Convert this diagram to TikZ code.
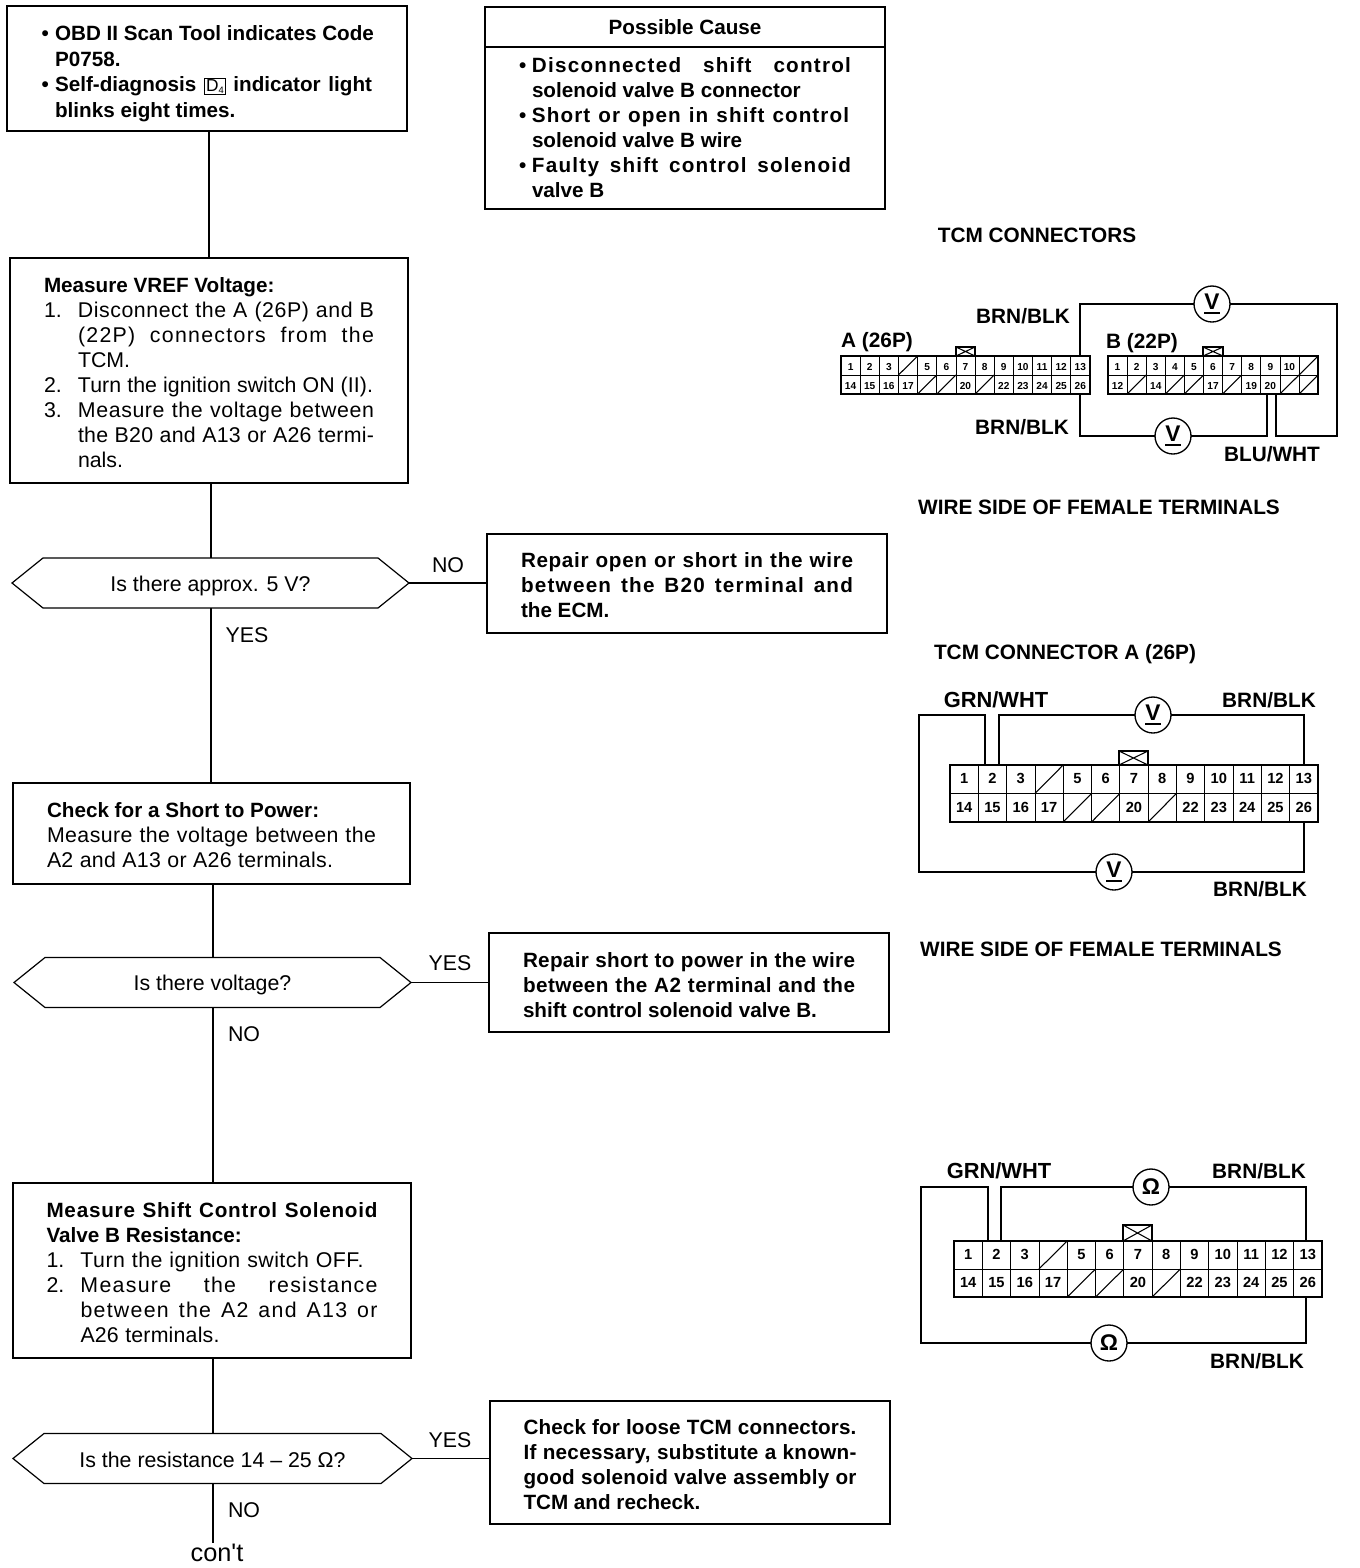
\documentclass[tikz,border=0pt]{standalone}
\usepackage{fontspec}
\setmainfont{Liberation Sans}
\usetikzlibrary{calc}
\newlength\pxu \setlength\pxu{0.75pt}
\newlength\jlw
\ExplSyntaxOn
\newcommand\lscount[1]{\str_count:n{#1}}
\ExplSyntaxOff
% justified line: letter-spaced a little, the rest goes to the word spaces
\newcommand\jl[2]{{\settowidth\jlw{#2}%
  \pgfmathsetmacro\jlp{min(6,max(-2,((#1*0.75pt-\jlw)/\lscount{#2})/(1em)*100))}%
  \edef\jlx{\noexpand\addfontfeature{LetterSpace=\jlp}}\jlx
  \makebox[#1\pxu][s]{#2}}}
\newcommand\ind[2]{\makebox[#1\pxu][l]{#2}}
\newcommand\tf[1]{\rule{0pt}{\dimexpr 11pt+#1\pxu*2\relax}}
\newcommand\reg{\fontsize{16}{18.75}\selectfont}
\newcommand\bld{\fontsize{15.5}{18.75}\selectfont\bfseries}
\newcommand\bldtop{\fontsize{15.5}{19.2}\selectfont\bfseries}
\newcommand\Dfour{{\setlength\fboxsep{0.8pt}\setlength\fboxrule{0.7pt}\fbox{\fontsize{13}{13}\selectfont\mdseries D\raisebox{-1pt}{\fontsize{7}{7}\selectfont 4}}}}
\newcommand\uV{\vbox{\hbox{V}\kern1.8pt\hrule height 1pt}}
\def\slashmark{/}
% row of connector cells: prefix, x0, ytop, cell width, cell height, font, list
\newcommand\cellrow[7]{%
  \foreach \t [count=\i from 0] in {#7}{%
    \ifx\t\slashmark
      \node[cell,minimum width=#4*0.75pt,minimum height=#5*0.75pt] (#1\i) at ({#2+#4*\i+#4/2},{#3+#5/2}) {};
      \draw[cellline] (#1\i.south west) -- (#1\i.north east);
    \else
      \node[cell,font=#6,minimum width=#4*0.75pt,minimum height=#5*0.75pt] (#1\i) at ({#2+#4*\i+#4/2},{#3+#5/2}) {\t};
    \fi
  }%
}
% key tab: name, x1, x2, y1, y2
\newcommand\keytab[5]{%
  \node[keybox,minimum width={(#3-#2)*0.75pt},minimum height={(#5-#4)*0.75pt}] (#1) at ({(#2+#3)/2},{(#4+#5)/2}) {};
  \draw[cellline] (#1.south west) -- (#1.north east) (#1.north west) -- (#1.south east);
}
% hexagon: name, x1, x2, ymid, text
\newcommand\hexa[5]{%
  \node[hexlabel,minimum width={(#3-#2)*0.75pt},minimum height=50*0.75pt] (#1) at ({(#2+#3)/2},#4) {#5};
  \draw[flow] (#1.west) -- ($(#1.north west)+(31,0)$) -- ($(#1.north east)+(-31,0)$) -- (#1.east)
     -- ($(#1.south east)+(-31,0)$) -- ($(#1.south west)+(31,0)$) -- cycle;
}
\tikzset{
  x=0.75pt,y=-0.75pt,
  flow/.style={line width=0.9pt,line join=miter},
  fbx/.style 2 args={draw,line width=0.9pt,minimum width=#1*0.75pt,minimum height=#2*0.75pt,inner sep=0pt,align=left,outer sep=0pt},
  hexlabel/.style={inner sep=0pt,outer sep=0pt,font=\reg},
  yn/.style={font=\reg,inner sep=0pt},
  rlabel/.style={font=\fontsize{15.6}{19}\selectfont\bfseries,inner sep=0pt},
  glabel/.style={font=\fontsize{16.4}{19}\selectfont\bfseries,inner sep=0pt},
  cell/.style={draw,line width=0.6pt,inner sep=0pt,outer sep=0pt,text height=0.7em,text depth=0pt},
  cellline/.style={line width=0.8pt},
  keybox/.style={draw,line width=1.1pt,inner sep=0pt,outer sep=0pt},
  body/.style={draw,line width=1.3pt,inner sep=0pt,outer sep=0pt},
  wire/.style={line width=1.2pt,line join=miter},
  meter/.style={draw,circle,line width=1pt,minimum size=36*0.75pt,inner sep=0pt,outer sep=0pt,fill=white,font=\fontsize{17}{17}\selectfont\bfseries},
}
\begin{document}
\begin{tikzpicture}
\fill[white] (0,0) rectangle (1360,1568);
\useasboundingbox (0,0) rectangle (1360,1568);

% ---- flow boxes ----
\node[fbx={400}{125},font=\bldtop] (top) at (207,68.5) {%
  \tf{5.3}\ind{15}{\hspace*{1.5\pxu}•}OBD II Scan Tool indicates Code\\
  \ind{15}{}P0758.\\
  \ind{15}{\hspace*{1.5\pxu}•}\makebox[317\pxu][s]{Self-diagnosis \Dfour{} indicator light}\\
  \ind{15}{}blinks eight times.};

\node[fbx={400}{40},font=\bld] (causehead) at (685,27) {Possible Cause};
\node[fbx={400}{162},font=\bld] (causebody) at (685,128) {%
  \tf{0}\ind{13}{•}\jl{319}{Disconnected shift control}\\
  \ind{13}{}solenoid valve B connector\\
  \ind{13}{•}\jl{317}{Short or open in shift control}\\
  \ind{13}{}solenoid valve B wire\\
  \ind{13}{•}\jl{319}{Faulty shift control solenoid}\\
  \ind{13}{}valve B};

\node[fbx={398}{225},font=\reg] (vref) at (209,370.5) {%
  \tf{2}{\bld Measure VREF Voltage:}\\
  \ind{34}{1.}\jl{296}{Disconnect the A (26P) and B}\\
  \ind{34}{}\jl{296}{(22P) connectors from the}\\
  \ind{34}{}TCM.\\
  \ind{34}{2.}\jl{295}{Turn the ignition switch ON (II).}\\
  \ind{34}{3.}\jl{296}{Measure the voltage between}\\
  \ind{34}{}\jl{296}{the B20 and A13 or A26 termi-}\\
  \ind{34}{}nals.};

\node[fbx={400}{99},font=\bld] (fixa) at (687,583.5) {%
  \tf{2}\jl{332}{Repair open or short in the wire}\\
  \jl{332}{between the B20 terminal and}\\
  the ECM.};

\node[fbx={397}{101},font=\reg] (shortp) at (211.5,833.5) {%
  \tf{1.5}{\bld Check for a Short to Power:}\\
  \jl{329}{Measure the voltage between the}\\
  \jl{286}{A2 and A13 or A26 terminals.}};

\node[fbx={400}{99},font=\bld] (fixb) at (689,982.5) {%
  \tf{2.5}\jl{332}{Repair short to power in the wire}\\
  \jl{332}{between the A2 terminal and the}\\
  shift control solenoid valve B.};

\node[fbx={398}{175},font=\reg] (resist) at (212,1270.5) {%
  \tf{2.5}{\bld\jl{331}{Measure Shift Control Solenoid}}\\
  {\bld Valve B Resistance:}\\
  \ind{34}{1.}\jl{283}{Turn the ignition switch OFF.}\\
  \ind{34}{2.}\jl{297}{Measure the resistance}\\
  \ind{34}{}\jl{297}{between the A2 and A13 or}\\
  \ind{34}{}\jl{139}{A26 terminals.}};

\node[fbx={400}{123},font=\bld] (fixc) at (690,1462.5) {%
  \tf{2.5}\jl{333}{Check for loose TCM connectors.}\\
  \jl{333}{If necessary, substitute a known-}\\
  \jl{333}{good solenoid valve assembly or}\\
  TCM and recheck.};

% ---- decisions ----
\hexa{dva}{12}{409}{583}{\tf{3.5}Is there approx. 5 V?}
\hexa{dvb}{14}{411}{982.5}{\tf{2.5}Is there voltage?}
\hexa{dvc}{13}{412}{1458.5}{\tf{1.5}Is the resistance 14 – 25 Ω?}

\node[yn] (noa) at (448,565) {NO};
\node[yn] (yesa) at (247,635) {YES};
\node[yn] (yesb) at (450,963) {YES};
\node[yn] (nob) at (244,1034) {NO};
\node[yn] (yesc) at (450,1440) {YES};
\node[yn] (noc) at (244,1510) {NO};
\node[inner sep=0pt,font=\fontsize{19}{19}\selectfont,anchor=base] (cont) at (217,1561) {con\textquotesingle t};

% ---- flow connectors ----
\coordinate (l1) at (209,0);
\coordinate (l2) at (211,0);
\coordinate (l3) at (213,0);
\draw[flow] (top.south -| l1) -- (vref.north -| l1);
\draw[flow] (vref.south -| l2) -- (dva.north -| l2);
\draw[flow] (dva.south -| l2) -- (shortp.north -| l2);
\draw[flow] (shortp.south -| l3) -- (dvb.north -| l3);
\draw[flow] (dvb.south -| l3) -- (resist.north -| l3);
\draw[flow] (resist.south -| l3) -- (dvc.north -| l3);
\draw[flow] (dvc.south -| l3) -- (cont.north -| l3);
\draw[flow] (dva.east) -- (fixa.west |- dva.east);
\draw[flow] (dvb.east) -- (fixb.west |- dvb.east);
\draw[flow] (dvc.east) -- (fixc.west |- dvc.east);

% ---- right labels ----
\node[rlabel] (t1) at (1037,235) {TCM CONNECTORS};
\node[rlabel] (t2) at (1023,316) {BRN/BLK};
\node[rlabel] (t3) at (877,342) {A (26P)};
\node[rlabel] (t4) at (1142,343) {B (22P)};
\node[rlabel] (t5) at (1022,427) {BRN/BLK};
\node[rlabel] (t6) at (1272,454) {BLU/WHT};
\node[rlabel] (t7) at (1099,507) {WIRE SIDE OF FEMALE TERMINALS};
\node[rlabel] (t8) at (1065,654) {TCM CONNECTOR A (26P)};
\node[glabel] (t9) at (996,700) {GRN/WHT};
\node[rlabel] (t10) at (1269,700) {BRN/BLK};
\node[rlabel] (t11) at (1260,889) {BRN/BLK};
\node[rlabel] (t12) at (1101,949) {WIRE SIDE OF FEMALE TERMINALS};
\node[glabel] (t13) at (999,1171) {GRN/WHT};
\node[rlabel] (t14) at (1259,1171) {BRN/BLK};
\node[rlabel] (t15) at (1257,1361) {BRN/BLK};

% ---- connector 1: A (26P) and B (22P) ----
\def\sfa{\fontsize{7.6}{8}\selectfont\bfseries}
\cellrow{aa}{841}{356}{19.15}{19}{\sfa}{1,2,3,/,5,6,7,8,9,10,11,12,13}
\cellrow{ab}{841}{375}{19.15}{19}{\sfa}{14,15,16,17,/,/,20,/,22,23,24,25,26}
\node[body,minimum width=249*0.75pt,minimum height=38*0.75pt] (cA) at (965.5,375) {};
\keytab{kA}{956}{975}{347}{356}
\cellrow{ba}{1108}{356}{19.1}{19}{\sfa}{1,2,3,4,5,6,7,8,9,10,/}
\cellrow{bb}{1108}{375}{19.1}{19}{\sfa}{12,/,14,/,/,17,/,19,20,/,/}
\node[body,minimum width=210*0.75pt,minimum height=38*0.75pt] (cB) at (1213,375) {};
\keytab{kB}{1203}{1223}{347}{356}

\node[meter] (m1a) at (1212,304) {\uV};
\node[meter] (m1b) at (1173,436) {\uV};
\coordinate (p1) at (1080,304);
\coordinate (p2) at (1337,436);
\coordinate (p3) at (1276,436);
\coordinate (p4) at (1080,436);
\coordinate (p5) at (1267,436);
\draw[wire] (cA.north -| p1) -- (p1) -- (m1a);
\draw[wire] (m1a) -| (p2) -- (p3) -- (cB.south -| p3);
\draw[wire] (cA.south -| p4) -- (p4) -- (m1b);
\draw[wire] (m1b) -- (p5) -- (cB.south -| p5);

% ---- connector 2: A (26P), voltage ----
\def\sfb{\fontsize{11}{12}\selectfont\bfseries}
\cellrow{ca}{950}{765}{28.3}{28.5}{\sfb}{1,2,3,/,5,6,7,8,9,10,11,12,13}
\cellrow{cb}{950}{793.5}{28.3}{28.5}{\sfb}{14,15,16,17,/,/,20,/,22,23,24,25,26}
\node[body,minimum width=368*0.75pt,minimum height=57*0.75pt] (cC) at (1134,793.5) {};
\keytab{kC}{1119}{1148}{751}{765}
\node[meter] (m2a) at (1153,715) {\uV};
\node[meter] (m2b) at (1114,872) {\uV};
\coordinate (q1) at (985,715);
\coordinate (q2) at (919,872);
\coordinate (q3) at (1304,872);
\coordinate (q4) at (999,715);
\coordinate (q5) at (1304,715);
\draw[wire] (cC.north -| q1) -- (q1) -| (q2) -- (m2b);
\draw[wire] (m2b) -- (q3) -- (cC.south -| q3);
\draw[wire] (cC.north -| q4) -- (q4) -- (m2a);
\draw[wire] (m2a) -- (q5) -- (cC.north -| q5);

% ---- connector 3: A (26P), resistance ----
\cellrow{da}{954}{1241}{28.3}{28}{\sfb}{1,2,3,/,5,6,7,8,9,10,11,12,13}
\cellrow{db}{954}{1269}{28.3}{28}{\sfb}{14,15,16,17,/,/,20,/,22,23,24,25,26}
\node[body,minimum width=368*0.75pt,minimum height=56*0.75pt] (cD) at (1138,1269) {};
\keytab{kD}{1123}{1152}{1225}{1241}
\node[meter] (m3a) at (1151,1187) {Ω};
\node[meter] (m3b) at (1109,1343) {Ω};
\coordinate (r1) at (988,1187);
\coordinate (r2) at (921,1343);
\coordinate (r3) at (1306,1343);
\coordinate (r4) at (1001,1187);
\coordinate (r5) at (1306,1187);
\draw[wire] (cD.north -| r1) -- (r1) -| (r2) -- (m3b);
\draw[wire] (m3b) -- (r3) -- (cD.south -| r3);
\draw[wire] (cD.north -| r4) -- (r4) -- (m3a);
\draw[wire] (m3a) -- (r5) -- (cD.north -| r5);
\end{tikzpicture}
\end{document}
